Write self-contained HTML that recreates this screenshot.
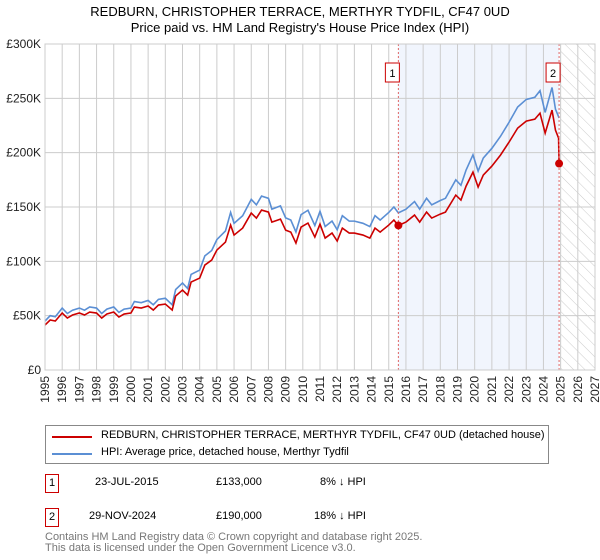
<!DOCTYPE html>
<html><head><meta charset="utf-8"><style>
body{margin:0;width:600px;height:560px;background:#fff;font-family:"Liberation Sans","DejaVu Sans",sans-serif;overflow:hidden;position:relative}
.t{position:absolute;white-space:nowrap}
</style></head><body>
<div class="t" style="left:0;width:600px;text-align:center;top:4px;font-size:13px;line-height:16px">REDBURN, CHRISTOPHER TERRACE, MERTHYR TYDFIL, CF47 0UD<br>Price paid vs. HM Land Registry's House Price Index (HPI)</div>
<svg id="chart" width="600" height="410" style="position:absolute;left:0;top:0" font-family="Liberation Sans, DejaVu Sans, sans-serif">
<defs><pattern id="hatch" width="8" height="8" patternUnits="userSpaceOnUse" patternTransform="rotate(-45)"><line x1="0" y1="0" x2="0" y2="8" stroke="#ccc" stroke-width="1"/></pattern></defs>
</svg>
<div style="position:absolute;left:45px;top:425px;width:502px;height:37px;border:1px solid #888;font-size:11px">
<div style="position:absolute;left:6px;top:10px;width:40px;height:2px;background:#cc0000"></div>
<div class="t" style="left:55px;top:3px">REDBURN, CHRISTOPHER TERRACE, MERTHYR TYDFIL, CF47 0UD (detached house)</div>
<div style="position:absolute;left:6px;top:27px;width:40px;height:2px;background:#5b8fd4"></div>
<div class="t" style="left:55px;top:20px">HPI: Average price, detached house, Merthyr Tydfil</div>
</div>
<div style="font-size:11px">
<div class="t" style="left:45px;top:474px;width:12px;height:17px;border:1px solid #cc0000;text-align:center;line-height:17px">1</div>
<div class="t" style="left:95px;top:476px">23-JUL-2015</div>
<div class="t" style="left:216px;top:476px">£133,000</div>
<div class="t" style="left:320px;top:476px">8% ↓ HPI</div>
<div class="t" style="left:45px;top:508px;width:12px;height:17px;border:1px solid #cc0000;text-align:center;line-height:17px">2</div>
<div class="t" style="left:89px;top:510px">29-NOV-2024</div>
<div class="t" style="left:216px;top:510px">£190,000</div>
<div class="t" style="left:314px;top:510px">18% ↓ HPI</div>
<div class="t" style="left:45px;top:532px;color:#777;line-height:11px">Contains HM Land Registry data © Crown copyright and database right 2025.<br>This data is licensed under the Open Government Licence v3.0.</div>
</div>
<script>
const years=[1995,1995.3,1995.6,1996,1996.3,1996.6,1997,1997.3,1997.6,1998,1998.3,1998.6,1999,1999.3,1999.6,2000,2000.2,2000.6,2001,2001.3,2001.6,2002,2002.4,2002.6,2003,2003.3,2003.5,2004,2004.3,2004.7,2005,2005.5,2005.8,2006,2006.5,2007,2007.3,2007.6,2008,2008.2,2008.7,2009,2009.3,2009.6,2009.9,2010.3,2010.7,2011,2011.3,2011.7,2012,2012.3,2012.7,2013,2013.5,2013.9,2014.2,2014.5,2015,2015.3,2015.56,2016,2016.5,2016.8,2017.2,2017.5,2018,2018.3,2018.9,2019.2,2019.5,2019.9,2020.2,2020.5,2021,2021.5,2022,2022.5,2023,2023.5,2023.8,2024.1,2024.5,2024.7,2024.91];
const hpi=[45,50,49,57,52,55,57,55,58,57,52,56,58,53,56,57,63,62,64,60,65,66,60,74,80,75,88,92,105,110,120,128,145,135,142,157,152,160,158,148,151,140,138,127,143,147,133,146,132,137,129,142,137,137,135,132,142,138,145,150,144.6,148,155,148,158,152,156,158,175,170,184,198,183,195,204,215,228,242,249,251,257,237,260,240,232];
const saleYears=[2015.56,2024.91];
const salePrices=[133,190];
const yTicks=[0,50,100,150,200,250,300];
const xTicks=[1995,1996,1997,1998,1999,2000,2001,2002,2003,2004,2005,2006,2007,2008,2009,2010,2011,2012,2013,2014,2015,2016,2017,2018,2019,2020,2021,2022,2023,2024,2025,2026,2027];
const L=45,R=595,T=44,B=370;
const X=y=>L+(y-1995)/32*(R-L);
const Y=v=>B-v/300*(B-T);
const svg=document.getElementById('chart');
const NS='http://www.w3.org/2000/svg';
function mk(tag,attrs){const e=document.createElementNS(NS,tag);for(const k in attrs)e.setAttribute(k,attrs[k]);svg.appendChild(e);return e;}
let r=mk('rect',{x:X(saleYears[0]),y:T,width:X(saleYears[1])-X(saleYears[0]),height:B-T,fill:'#eef3fd',opacity:0.8});


r=mk('rect',{x:X(2025),y:T,width:R-X(2025),height:B-T,fill:'url(#hatch)'});


xTicks.forEach(t=>{const l=mk('line',{x1:X(t),x2:X(t),y1:T,y2:B,stroke:'#ccc','stroke-width':1});


const tx=mk('text',{x:0,y:0,'font-size':12,'text-anchor':'end',transform:`translate(${X(t)+4},${B+6}) rotate(-90)`,fill:'#222'});tx.textContent=t;

});
yTicks.forEach(t=>{const l=mk('line',{x1:L,x2:R,y1:Y(t),y2:Y(t),stroke:'#ccc','stroke-width':1});


const tx=mk('text',{x:L-4,y:Y(t)+4,'font-size':12,'text-anchor':'end',fill:'#222'});tx.textContent=t===0?'£0':'£'+t+'K';

});
const ratio=salePrices[0]/hpi[years.indexOf(saleYears[0])];
const hp=mk('polyline',{points:years.map((y,i)=>X(y)+','+Y(hpi[i])).join(' '),fill:'none',stroke:'#5b8fd4','stroke-width':1.6});


const redPts=years.map((y,i)=>X(y)+','+Y(hpi[i]*ratio));redPts[redPts.length-1]=X(saleYears[1])+','+Y(salePrices[1]);
redPts.splice(redPts.length-1,0,X(saleYears[1])-0.5+','+Y(hpi[hpi.length-1]*ratio));
const rp=mk('polyline',{points:redPts.join(' '),fill:'none',stroke:'#cc0000','stroke-width':1.6});


saleYears.forEach((s,i)=>{const l=mk('line',{x1:X(s),x2:X(s),y1:T,y2:B,stroke:'#e06666','stroke-width':1,'stroke-dasharray':'2,2'});


const c=mk('circle',{cx:X(s),cy:Y(salePrices[i]),r:4,fill:'#cc0000'});


const b=mk('rect',{x:X(s)-13,y:63,width:14,height:19,fill:'#fff',stroke:'#cc0000'});


const tx=mk('text',{x:X(s)-6,y:77,'font-size':11,'text-anchor':'middle'});tx.textContent=i+1;

});
const fr=mk('rect',{x:L,y:T,width:R-L,height:B-T,fill:'none',stroke:'#ccc'});


</script>
</body></html>
